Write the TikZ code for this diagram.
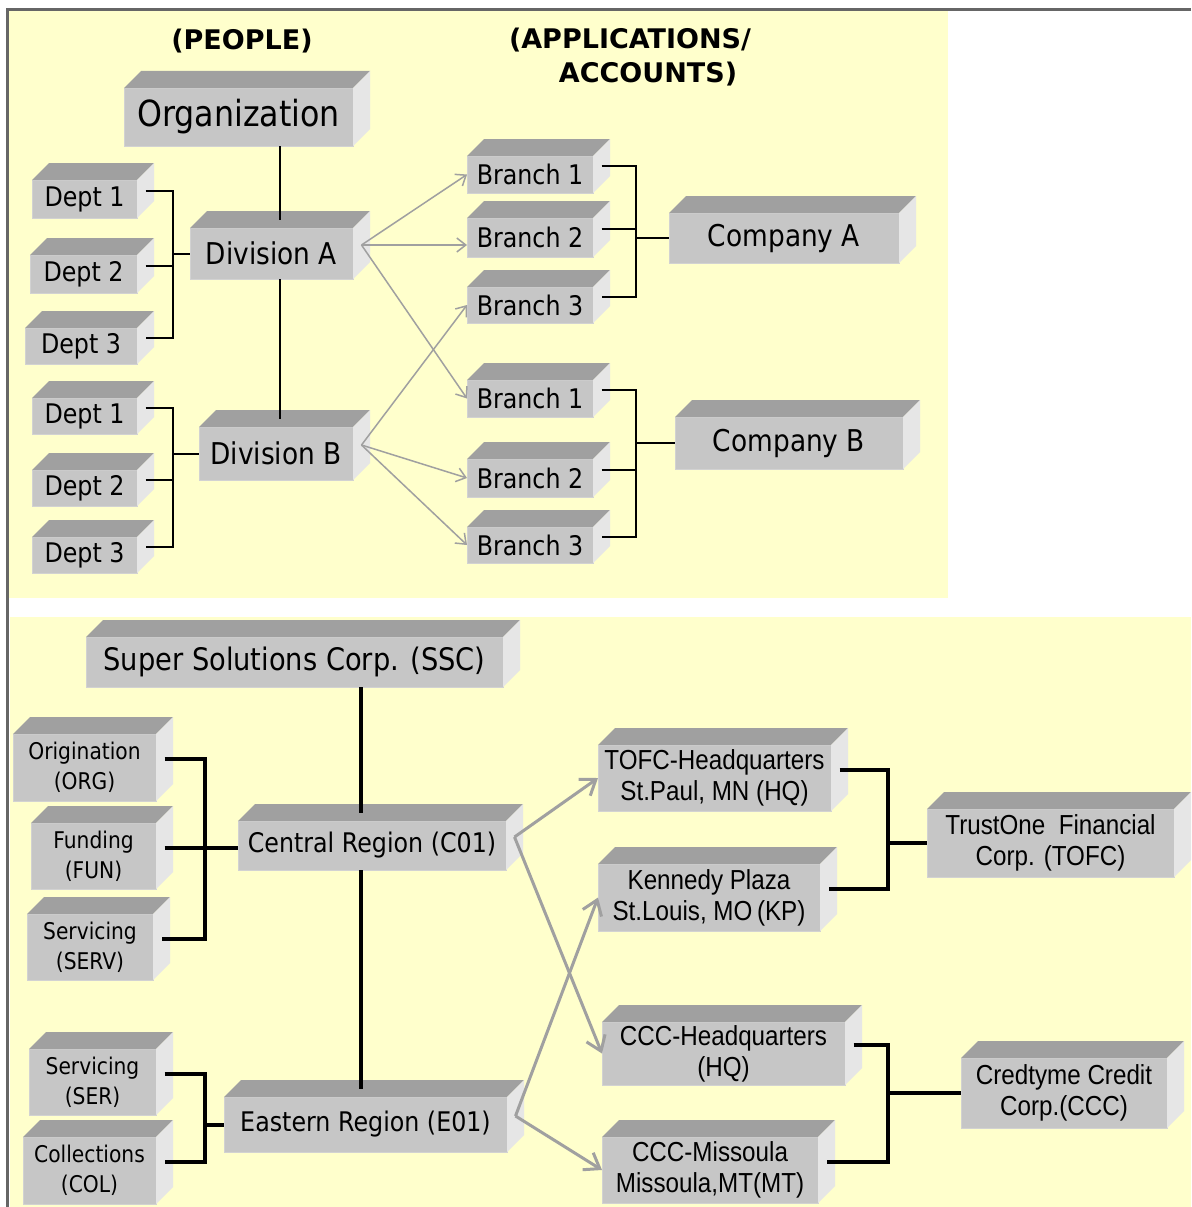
\documentclass[tikz,border=0pt]{standalone}
\usepackage{fontspec}
\setmainfont{DejaVu Sans}[FakeStretch=0.88]
\newfontfamily\headfont{DejaVu Sans}
\newfontfamily\arialfont{Liberation Sans}[FakeStretch=0.88]
\usetikzlibrary{arrows.meta}

\definecolor{paper}{HTML}{FFFFCC}
\definecolor{slabfront}{HTML}{C6C6C6}
\definecolor{slabedge}{HTML}{D2D2D2}
\definecolor{slabtop}{HTML}{A0A0A0}
\definecolor{slabside}{HTML}{E6E6E6}
\definecolor{linkgray}{HTML}{A0A0A0}
\definecolor{framegray}{HTML}{666666}

\tikzset{
  slab/.style 2 args={fill=slabfront, draw=slabedge, line width=1pt, inner sep=0pt, outer sep=0pt,
    align=center, minimum width=#1, minimum height=#2},
  heading/.style={font=\headfont\bfseries\fontsize{27}{30}\selectfont},
  orgfont/.style={font=\fontsize{36}{40}\selectfont},
  divfont/.style={font=\fontsize{30}{34}\selectfont},
  deptfont/.style={font=\fontsize{27}{30}\selectfont},
  sscfont/.style={font=\fontsize{31}{34}\selectfont},
  regionfont/.style={font=\fontsize{27}{30}\selectfont},
  unitfont/.style={font=\fontsize{23}{30}\selectfont},
  sitefont/.style={font=\arialfont\fontsize{27.5}{31}\selectfont},
  thin link/.style={line width=2pt},
  thick link/.style={line width=4pt},
  thin map/.style={linkgray, line width=1.5pt, -{Straight Barb[length=9pt,width=14pt]}},
  thick map/.style={linkgray, line width=3pt, -{Straight Barb[length=14pt,width=20pt]}},
}

\begin{document}
\begin{tikzpicture}[x=1pt, y=-1pt]
  \useasboundingbox (0,0) rectangle (1191,1207);

  % fonds jaunes et cadre
  \fill[paper] (8.5,11) rectangle (948,598);
  \fill[paper] (10,617) rectangle (1191,1207);
  \draw[framegray, line width=3pt] (1191,9.5) -- (7,9.5) -- (7,1207);

  % titres
  \node[heading] (people) at (242,41) {(PEOPLE)};
  \node[heading] (apps) at (630,40) {(APPLICATIONS/};
  \node[heading] (accts) at (648,74) {ACCOUNTS)};

  % blocs du haut
  \node[slab={229}{58}, orgfont] (org) at (238.5,117) {Organization};
  \node[slab={163}{51}, divfont] (diva) at (271.5,253.5) {Division A};
  \node[slab={154}{53}, divfont] (divb) at (276,453.5) {Division B};
  \node[slab={105}{38}, deptfont] (dept1a) at (84.5,199) {Dept 1};
  \node[slab={107}{38}, deptfont] (dept2a) at (83.5,274) {Dept 2};
  \node[slab={112}{36}, deptfont] (dept3a) at (81,346) {Dept 3};
  \node[slab={105}{36}, deptfont] (dept1b) at (84.5,416) {Dept 1};
  \node[slab={105}{36}, deptfont] (dept2b) at (84.5,488) {Dept 2};
  \node[slab={105}{36}, deptfont] (dept3b) at (84.5,555) {Dept 3};
  \node[slab={126}{37}, deptfont] (b1a) at (530,174.5) {Branch 1};
  \node[slab={126}{39}, deptfont] (b2a) at (530,237.5) {Branch 2};
  \node[slab={126}{36}, deptfont] (b3a) at (530,305) {Branch 3};
  \node[slab={126}{37}, deptfont] (b1b) at (530,398.5) {Branch 1};
  \node[slab={126}{38}, deptfont] (b2b) at (530,478) {Branch 2};
  \node[slab={126}{36}, deptfont] (b3b) at (530,545) {Branch 3};
  \node[slab={230}{50}, divfont] (compa) at (784,238) {Company A};
  \node[slab={228}{52}, divfont] (compb) at (789,443) {Company B};

  % blocs du bas
  \node[slab={417}{50}, sscfont] (ssc) at (294.5,662) {Super Solutions Corp. (SSC)};
  \node[slab={143}{67}, unitfont] (orig) at (84.5,767.5) {Origination\\(ORG)};
  \node[slab={125}{66}, unitfont] (fund) at (93.5,856) {Funding\\(FUN)};
  \node[slab={126}{66}, unitfont] (serv) at (90,947) {Servicing\\(SERV)};
  \node[slab={268}{49}, regionfont] (central) at (372,845.5) {Central Region (C01)};
  \node[slab={127}{66}, unitfont] (ser) at (92.5,1082) {Servicing\\(SER)};
  \node[slab={133}{67}, unitfont] (col) at (89.5,1170.5) {Collections\\(COL)};
  \node[slab={283}{55}, regionfont] (eastern) at (365.5,1124.5) {Eastern Region (E01)};
  \node[slab={233}{66}, sitefont] (tofc) at (714.5,778) {TOFC-Headquarters\\St.Paul, MN (HQ)};
  \node[slab={222}{67}, sitefont] (kp) at (709,897.5) {Kennedy Plaza\\St.Louis, MO\,(KP)};
  \node[slab={247}{68}, sitefont] (trust) at (1050.5,843) {TrustOne\ \ Financial\\Corp. (TOFC)};
  \node[slab={243}{63}, sitefont] (ccchq) at (723.5,1053.5) {CCC-Headquarters\\(HQ)};
  \node[slab={216}{66}, sitefont] (cccm) at (710,1170) {CCC-Missoula\\Missoula,MT(MT)};
  \node[slab={206}{70}, sitefont] (cred) at (1064,1093) {Credtyme Credit\\Corp.(CCC)};

  % faces du relief
  \foreach \n in {org,diva,divb,dept1a,dept2a,dept3a,dept1b,dept2b,dept3b,
                  b1a,b2a,b3a,b1b,b2b,b3b,compa,compb,
                  ssc,orig,fund,serv,central,ser,col,eastern,
                  tofc,kp,trust,ccchq,cccm,cred}{
    \fill[slabtop] (\n.north west) -- ++(17,-17) -- ([shift={(17,-17)}]\n.north east) -- (\n.north east) -- cycle;
    \fill[slabside] (\n.north east) -- ++(17,-17) -- ([shift={(17,-17)}]\n.south east) -- (\n.south east) -- cycle;
    \coordinate (\n-r) at ([shift={(8.5,-8.5)}]\n.east);
  }

  % liaisons du haut
  \coordinate (trunka) at ([shift={(8.5,-8.5)}]diva.north);
  \coordinate (trunkb) at ([shift={(8.5,-8.5)}]divb.north);
  \coordinate (deptspine) at (173,0);
  \coordinate (branchspine) at (636,0);
  \draw[thin link] (org.south -| trunka) -- (trunka);
  \draw[thin link] (diva.south -| trunka) -- (trunkb -| trunka);
  \draw[thin link] (dept1a-r) -| (deptspine |- dept3a-r) -- (dept3a-r);
  \draw[thin link] (dept2a-r) -- (deptspine |- dept2a-r);
  \draw[thin link] (deptspine |- diva.west) -- (diva.west);
  \draw[thin link] (dept1b-r) -| (deptspine |- dept3b-r) -- (dept3b-r);
  \draw[thin link] (dept2b-r) -- (deptspine |- dept2b-r);
  \draw[thin link] (deptspine |- divb.west) -- (divb.west);
  \draw[thin link] (b1a-r) -| (branchspine |- b3a-r) -- (b3a-r);
  \draw[thin link] (b2a-r) -- (branchspine |- b2a-r);
  \draw[thin link] (branchspine |- compa.west) -- (compa.west);
  \draw[thin link] (b1b-r) -| (branchspine |- b3b-r) -- (b3b-r);
  \draw[thin link] (b2b-r) -- (branchspine |- b2b-r);
  \draw[thin link] (branchspine |- compb.west) -- (compb.west);

  % fleches du haut
  \draw[thin map] (diva-r) -- (b1a.west);
  \draw[thin map] (diva-r) -- (b2a.west |- diva-r);
  \draw[thin map] (diva-r) -- (b1b.west);
  \draw[thin map] (divb-r) -- (b3a.west);
  \draw[thin map] (divb-r) -- (b2b.west);
  \draw[thin map] (divb-r) -- (b3b.west);

  % liaisons du bas
  \coordinate (stem) at (361,0);
  \coordinate (ctop) at ([shift={(0,-8.5)}]central.north);
  \coordinate (etop) at ([shift={(0,-8.5)}]eastern.north);
  \coordinate (unitspine) at (205,0);
  \coordinate (sitespine) at (888,0);
  \draw[thick link] (stem |- ssc.south) -- (stem |- ctop);
  \draw[thick link] (stem |- central.south) -- (stem |- etop);
  \draw[thick link] (orig-r) -| (unitspine |- serv-r) -- (serv-r);
  \draw[thick link] (fund-r) -- (central.west |- fund-r);
  \draw[thick link] (ser-r) -| (unitspine |- col-r) -- (col-r);
  \draw[thick link] (unitspine |- eastern.west) -- (eastern.west);
  \draw[thick link] (tofc-r) -| (sitespine |- kp-r) -- (kp-r);
  \draw[thick link] (sitespine |- trust.west) -- (trust.west);
  \draw[thick link] (ccchq-r) -| (sitespine |- cccm-r) -- (cccm-r);
  \draw[thick link] (sitespine |- cred.west) -- (cred.west);

  % fleches du bas
  \draw[thick map] (central-r) -- (tofc.west);
  \draw[thick map] (central-r) -- (ccchq.west);
  \draw[thick map] (eastern-r) -- (kp.west);
  \draw[thick map] (eastern-r) -- (cccm.west);
\end{tikzpicture}
\end{document}
